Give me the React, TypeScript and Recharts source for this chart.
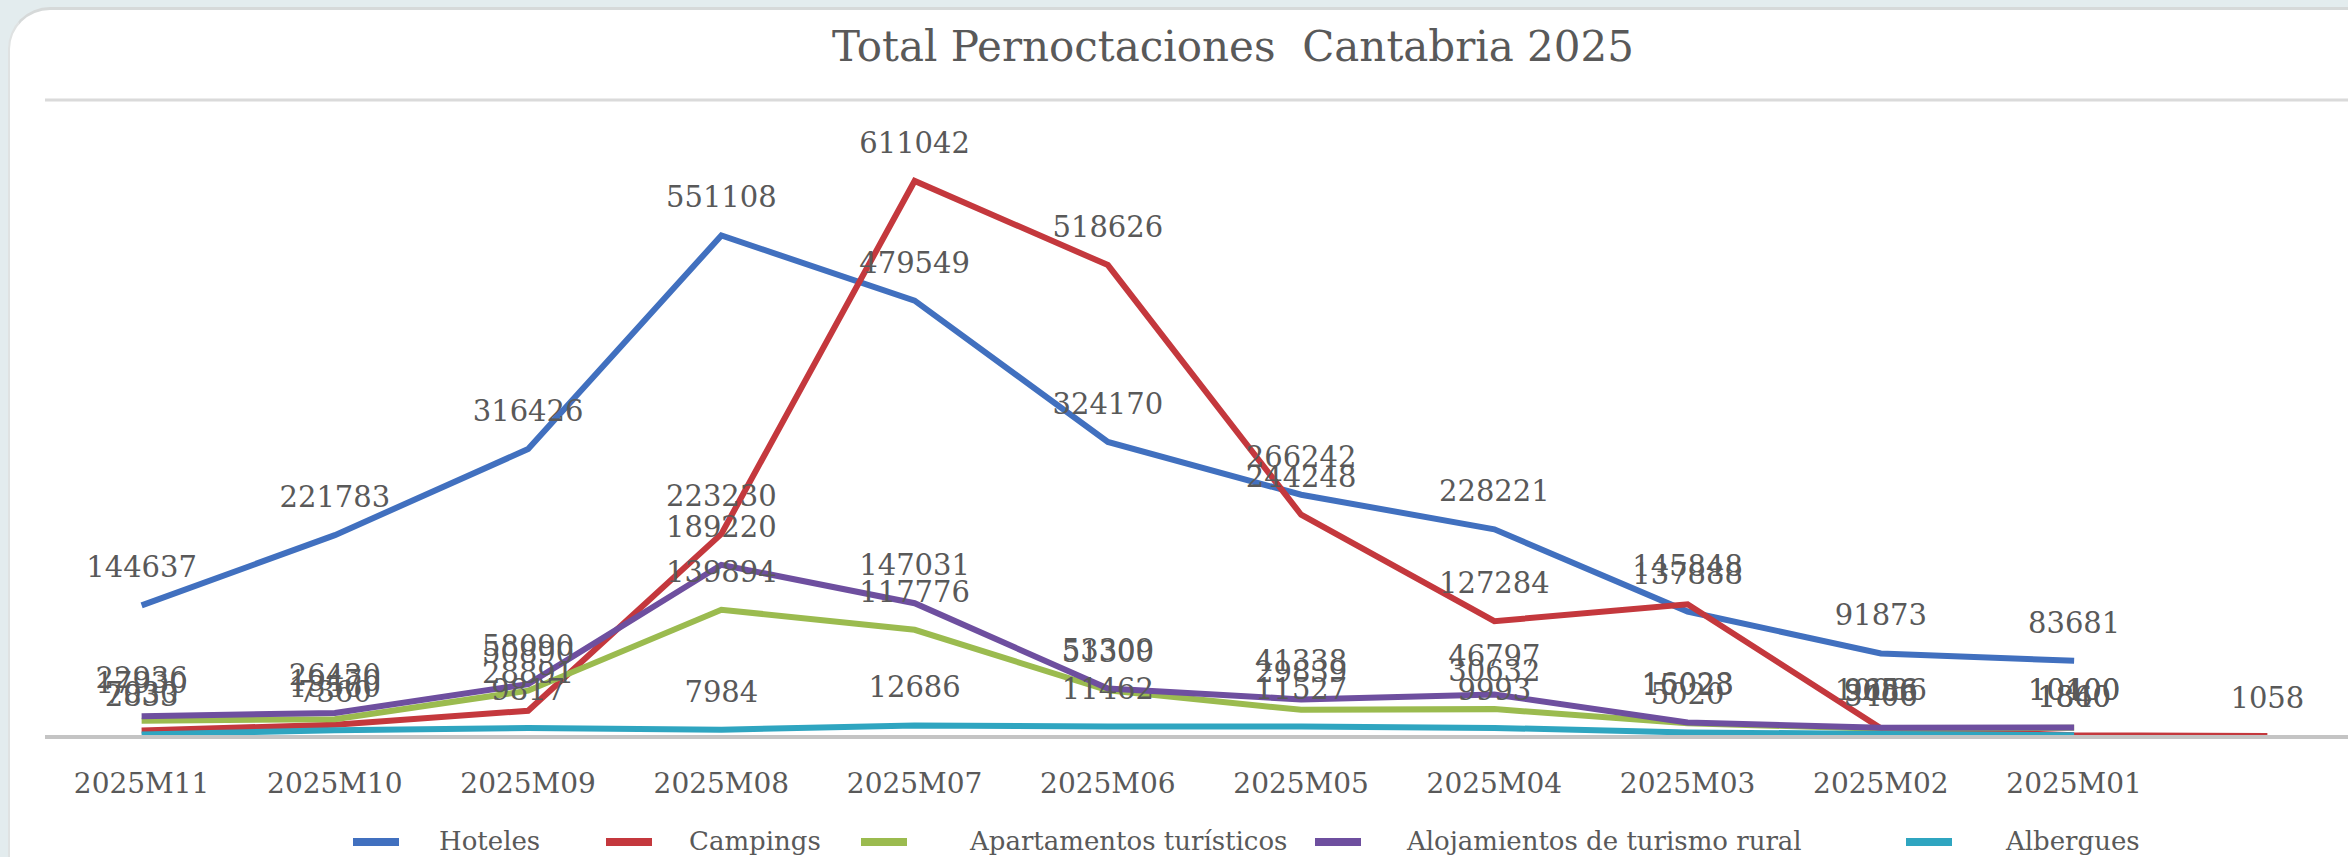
import React from 'react';
import { LineChart, Line, XAxis, YAxis, CartesianGrid, LabelList } from 'recharts';

// months run backwards, last slot has no label (only Campings has a value there)
const months = ['2025M11', '2025M10', '2025M09', '2025M08', '2025M07', '2025M06', '2025M05', '2025M04', '2025M03', '2025M02', '2025M01', ''];

const hoteles = [144637, 221783, 316426, 551108, 479549, 324170, 266242, 228221, 137888, 91873, 83681, null];
const campings = [7030, 13560, 28891, 223230, 611042, 518626, 244248, 127284, 145848, 9656, 1840, 1058];
const apartamentos = [17930, 19470, 50890, 139894, 117776, 51300, 29839, 30632, 15023, 9086, 10100, null];
const rural = [22936, 26430, 58090, 189220, 147031, 53309, 41338, 46797, 16028, 10086, 10400, null];
const albergues = [2833, 7360, 9817, 7984, 12686, 11462, 11527, 9993, 5020, 3406, 1860, null];

const yTicks = [0, 175000, 350000, 525000, 700000];

const series = [
  { key: 'hoteles', name: 'Hoteles', color: '#4170bf' },
  { key: 'campings', name: 'Campings', color: '#c4383d' },
  { key: 'apartamentos', name: 'Apartamentos turísticos', color: '#9bbb4f' },
  { key: 'rural', name: 'Alojamientos de turismo rural', color: '#6e4f9f' },
  { key: 'albergues', name: 'Albergues', color: '#2fa5c0' },
];

// where each legend entry starts (swatch left, text left)
const legendPos = [
  [353, 439],
  [606, 689],
  [861, 970],
  [1315, 1407],
  [1906, 2006],
];

const data = months.map((m, i) => ({
  month: m,
  hoteles: hoteles[i],
  campings: campings[i],
  apartamentos: apartamentos[i],
  rural: rural[i],
  albergues: albergues[i],
}));

const FONT = '"DejaVu Serif", "Liberation Serif", serif';
const TEXT = '#595959';

const ChartLegend = () => (
  <>
    {series.map((s, i) => (
      <React.Fragment key={s.key}>
        <span
          style={{
            position: 'absolute',
            left: legendPos[i][0],
            top: 838,
            width: 46,
            height: 8,
            background: s.color,
          }}
        />
        <span
          style={{
            position: 'absolute',
            left: legendPos[i][1],
            top: 826,
            fontFamily: FONT,
            fontSize: 26,
            color: TEXT,
            whiteSpace: 'nowrap',
          }}
        >
          {s.name}
        </span>
      </React.Fragment>
    ))}
  </>
);

export default function App() {
  return (
    <div style={{ position: 'relative', width: 2348, height: 857, overflow: 'hidden', background: '#e3ecee' }}>
      <style>{'body{margin:0}'}</style>
      <div
        style={{
          position: 'absolute',
          left: 8,
          top: 7,
          width: 2400,
          height: 920,
          background: '#ffffff',
          borderRadius: 42,
          borderTop: '3px solid #d6d9d9',
          borderLeft: '2px solid #dfe2e2',
        }}
      />
      <div
        style={{
          position: 'absolute',
          top: 22,
          left: 0,
          width: 2466,
          textAlign: 'center',
          fontFamily: FONT,
          fontSize: 42,
          color: TEXT,
          whiteSpace: 'pre',
        }}
      >
        {'Total Pernoctaciones  Cantabria 2025'}
      </div>
      <div style={{ position: 'absolute', left: 0, top: 0 }}>
        <LineChart width={2364} height={857} data={data} margin={{ top: 100, right: 0, left: 45, bottom: 60 }}>
          <CartesianGrid vertical={false} stroke="#dadada" strokeWidth={3} />
          <XAxis
            dataKey="month"
            scale="band"
            height={60}
            tickLine={false}
            axisLine={{ stroke: '#c4c4c4', strokeWidth: 4 }}
            tickMargin={30}
            interval={0}
            tick={{ fill: TEXT, fontFamily: FONT, fontSize: 28 }}
          />
          <YAxis domain={[0, 700000]} ticks={yTicks} width={0} tick={false} axisLine={false} tickLine={false} />
          {series.map((s) => (
            <Line
              key={s.key}
              dataKey={s.key}
              name={s.name}
              stroke={s.color}
              strokeWidth={6}
              dot={false}
              activeDot={false}
              isAnimationActive={false}
            >
              <LabelList dataKey={s.key} position="top" offset={28} fill={TEXT} fontFamily={FONT} fontSize={29} />
            </Line>
          ))}
        </LineChart>
      </div>
      <ChartLegend />
    </div>
  );
}
